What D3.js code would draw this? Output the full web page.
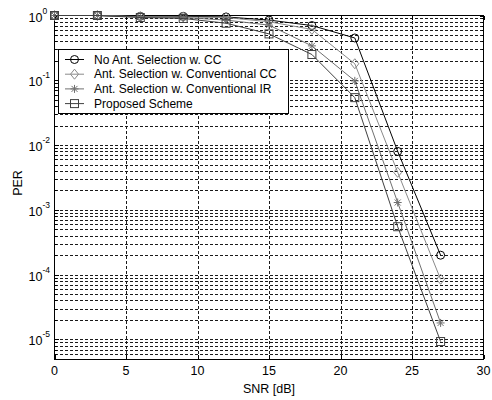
<!DOCTYPE html>
<html>
<head>
<meta charset="utf-8">
<script src="https://cdn.jsdelivr.net/npm/d3@7"></script>
<style>
  html, body { margin: 0; padding: 0; background: #fff; }
  svg { display: block; }
  text { font-family: "Liberation Sans", Arial, sans-serif; fill: #000; }
</style>
</head>
<body>
<svg id="chart" width="492" height="400"></svg>
<script>
// SNR points (dB)
const snr = [0, 3, 6, 9, 12, 15, 18, 21, 24, 27];

// Packet error rate per scheme
const perNoSel   = [1, 1, 0.97, 0.97, 0.95, 0.85, 0.70, 0.45, 8.0e-3, 2.0e-4];
const perSelCC   = [1, 1, 0.96, 0.95, 0.93, 0.80, 0.61, 0.18, 3.8e-3, 8.5e-5];
const perSelIR   = [1, 1, 0.95, 0.93, 0.85, 0.71, 0.34, 0.098, 1.3e-3, 1.8e-5];
const perProp    = [1, 1, 0.93, 0.90, 0.76, 0.52, 0.25, 0.054, 5.5e-4, 9.3e-6];

const seriesNames = [
  "No Ant. Selection w. CC",
  "Ant. Selection w. Conventional CC",
  "Ant. Selection w. Conventional IR",
  "Proposed Scheme"
];

const xTicks = [0, 5, 10, 15, 20, 25, 30];
const yDecades = [0, -1, -2, -3, -4, -5];

const series = [
  { name: seriesNames[0], values: perNoSel, marker: "circle",  color: "#000000" },
  { name: seriesNames[1], values: perSelCC, marker: "diamond", color: "#8a8a8a" },
  { name: seriesNames[2], values: perSelIR, marker: "star",    color: "#707070" },
  { name: seriesNames[3], values: perProp,  marker: "square",  color: "#404040" }
];

const svg = d3.select("#chart");
const pLeft = 54.5, pRight = 483.5, pTop = 15.5, pBottom = 359;

const x = d3.scaleLinear().domain([0, 30]).range([pLeft, pRight]);
const y = d3.scaleLog().domain([5e-6, 1]).range([pBottom, pTop]);

// grid: major and minor log lines on y, major on x
const gridY = [];
for (let e = -6; e < 0; e++) {
  for (let m = 1; m <= 9; m++) {
    const v = m * Math.pow(10, e);
    if (v >= 5e-6 && v < 1) gridY.push(v);
  }
}
const grid = svg.append("g")
  .attr("stroke", "#1a1a1a").attr("stroke-width", 1)
  .attr("stroke-dasharray", "3,2").attr("shape-rendering", "crispEdges");
grid.selectAll("line.gy").data(gridY.filter(v => v > 5e-6)).enter().append("line")
  .attr("x1", pLeft).attr("x2", pRight)
  .attr("y1", d => Math.round(y(d)) + 0.5).attr("y2", d => Math.round(y(d)) + 0.5);
grid.selectAll("line.gx").data(xTicks.filter(v => v > 0 && v < 30)).enter().append("line")
  .attr("y1", pTop).attr("y2", pBottom)
  .attr("x1", d => Math.round(x(d)) + 0.5).attr("x2", d => Math.round(x(d)) + 0.5);

// axis box with inward ticks
const axis = svg.append("g").attr("stroke", "#000").attr("stroke-width", 1)
  .attr("shape-rendering", "crispEdges").attr("fill", "none");
axis.append("rect").attr("x", pLeft).attr("y", pTop)
  .attr("width", pRight - pLeft).attr("height", pBottom - pTop);
xTicks.forEach(v => {
  const px = Math.round(x(v)) + 0.5;
  axis.append("line").attr("x1", px).attr("x2", px).attr("y1", pBottom).attr("y2", pBottom - 4);
  axis.append("line").attr("x1", px).attr("x2", px).attr("y1", pTop).attr("y2", pTop + 4);
});
gridY.concat([1]).forEach(v => {
  const py = Math.round(y(v)) + 0.5;
  const major = Math.abs(Math.log10(v) - Math.round(Math.log10(v))) < 1e-9;
  const len = major ? 4 : 2;
  axis.append("line").attr("x1", pLeft).attr("x2", pLeft + len).attr("y1", py).attr("y2", py);
  axis.append("line").attr("x1", pRight).attr("x2", pRight - len).attr("y1", py).attr("y2", py);
});

// tick labels
svg.append("g").selectAll("text").data(xTicks).enter().append("text")
  .attr("x", d => x(d)).attr("y", 375)
  .attr("text-anchor", "middle").attr("font-size", 12.5)
  .text(d => d);

const yl = svg.append("g").selectAll("text").data(yDecades).enter().append("text")
  .attr("x", 28.5).attr("y", d => y(Math.pow(10, d)) + 6)
  .attr("font-size", 12.5);
yl.append("tspan").text("10");
yl.append("tspan").attr("dy", -8).attr("font-size", 8.5).text(d => d);

// axis titles
svg.append("text").attr("x", (pLeft + pRight) / 2).attr("y", 393)
  .attr("text-anchor", "middle").attr("font-size", 12.5).text("SNR [dB]");
svg.append("text").attr("transform", "translate(22,183) rotate(-90)")
  .attr("text-anchor", "middle").attr("font-size", 12.5).text("PER");

// marker shapes
function drawMarker(g, type, color) {
  const s = g.attr("stroke", color).attr("fill", "none").attr("stroke-width", 1);
  if (type === "circle") s.append("circle").attr("r", 4);
  else if (type === "square") s.append("rect").attr("x", -4).attr("y", -4).attr("width", 8).attr("height", 8);
  else if (type === "diamond") s.append("path").attr("d", "M0,-5L4,0L0,5L-4,0Z");
  else if (type === "star") {
    s.append("path").attr("d", "M-4,0H4M0,-4V4M-3,-3L3,3M-3,3L3,-3");
  }
}

const line = d3.line().x((d, i) => x(snr[i])).y(d => y(d));
const plot = svg.append("g");
series.forEach(s => {
  plot.append("path").datum(s.values).attr("d", line)
    .attr("fill", "none").attr("stroke", s.color).attr("stroke-width", 1);
  s.values.forEach((v, i) => {
    drawMarker(plot.append("g").attr("transform", `translate(${x(snr[i])},${y(v)})`), s.marker, s.color);
  });
});

// legend
const lg = svg.append("g");
lg.append("rect").attr("x", 58.5).attr("y", 49.5).attr("width", 230).attr("height", 64)
  .attr("fill", "#fff").attr("stroke", "#000").attr("shape-rendering", "crispEdges");
series.forEach((s, i) => {
  const cy = 59.5 + i * 14.7;
  lg.append("line").attr("x1", 65).attr("x2", 84).attr("y1", cy).attr("y2", cy)
    .attr("stroke", s.color);
  drawMarker(lg.append("g").attr("transform", `translate(74.5,${cy})`), s.marker, s.color);
  lg.append("text").attr("x", 94).attr("y", cy + 4).attr("font-size", 12).text(s.name);
});
</script>
</body>
</html>
